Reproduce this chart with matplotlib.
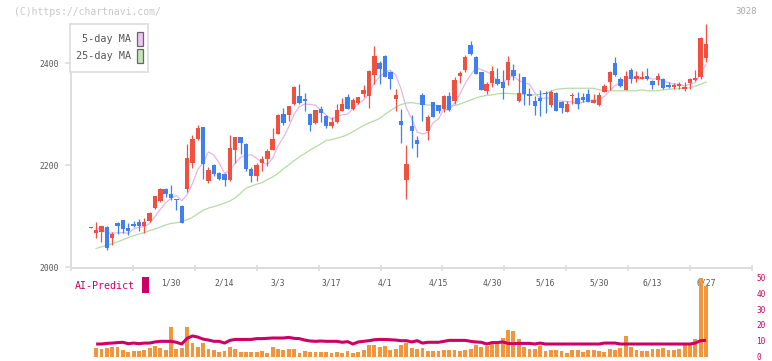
import numpy as np
import pandas as pd
import matplotlib
matplotlib.use("Agg")
import matplotlib.pyplot as plt
from matplotlib.patches import Rectangle

# ── Data (trading-day index, 0 = 1/30) ──
day_index = np.arange(-15, 101)

opens = [2077, 2067, 2070, 2079, 2058, 2087, 2093, 2077, 2085, 2089, 2081, 2091, 2117, 2129, 2153, 2144,
         2134, 2120, 2153, 2205, 2251, 2275, 2170, 2200, 2184, 2183, 2171, 2229, 2255, 2242, 2193, 2178,
         2205, 2212, 2230, 2262, 2301, 2299, 2320, 2336, 2329, 2301, 2282, 2310, 2297, 2277, 2284, 2307,
         2333, 2310, 2323, 2340, 2335, 2377, 2401, 2414, 2383, 2330, 2287, 2171, 2277, 2250, 2338, 2267,
         2324, 2318, 2310, 2336, 2327, 2376, 2386, 2435, 2413, 2382, 2346, 2361, 2369, 2364, 2367, 2387,
         2327, 2373, 2339, 2326, 2331, 2341, 2318, 2342, 2325, 2305, 2336, 2331, 2334, 2340, 2323, 2318,
         2344, 2364, 2401, 2370, 2348, 2387, 2369, 2370, 2375, 2366, 2367, 2370, 2357, 2354, 2355, 2350,
         2361, 2367, 2374, 2411]
highs = [2078, 2088, 2080, 2080, 2070, 2088, 2093, 2086, 2091, 2095, 2097, 2109, 2140, 2155, 2155, 2161,
         2134, 2122, 2242, 2259, 2279, 2276, 2197, 2202, 2187, 2184, 2259, 2256, 2256, 2243, 2197, 2205,
         2218, 2232, 2274, 2300, 2312, 2317, 2355, 2359, 2341, 2302, 2309, 2316, 2298, 2294, 2320, 2331,
         2340, 2331, 2334, 2357, 2386, 2433, 2405, 2416, 2384, 2350, 2310, 2240, 2299, 2257, 2342, 2299,
         2325, 2319, 2337, 2344, 2374, 2385, 2416, 2444, 2414, 2383, 2364, 2395, 2391, 2387, 2414, 2399,
         2380, 2374, 2351, 2335, 2348, 2346, 2348, 2344, 2327, 2327, 2342, 2343, 2341, 2349, 2340, 2344,
         2359, 2384, 2413, 2374, 2384, 2390, 2385, 2385, 2390, 2367, 2380, 2371, 2364, 2361, 2364, 2363,
         2371, 2387, 2451, 2477]
lows = [2077, 2058, 2050, 2034, 2044, 2066, 2068, 2063, 2078, 2072, 2068, 2089, 2115, 2128, 2138, 2132,
        2112, 2087, 2148, 2195, 2250, 2173, 2166, 2179, 2172, 2160, 2170, 2205, 2223, 2189, 2168, 2170,
        2189, 2199, 2229, 2261, 2279, 2287, 2318, 2320, 2307, 2268, 2280, 2285, 2274, 2274, 2283, 2306,
        2310, 2308, 2320, 2333, 2313, 2359, 2359, 2373, 2350, 2307, 2243, 2134, 2234, 2217, 2287, 2250,
        2294, 2302, 2305, 2307, 2320, 2361, 2382, 2417, 2378, 2347, 2340, 2354, 2358, 2330, 2357, 2367,
        2325, 2319, 2318, 2299, 2297, 2303, 2314, 2306, 2303, 2304, 2320, 2310, 2325, 2324, 2322, 2316,
        2343, 2348, 2376, 2354, 2347, 2362, 2364, 2369, 2367, 2350, 2357, 2350, 2351, 2350, 2350, 2346,
        2350, 2365, 2369, 2403]
closes = [2078, 2073, 2080, 2038, 2065, 2081, 2076, 2072, 2081, 2081, 2089, 2106, 2140, 2153, 2143, 2136,
          2132, 2087, 2214, 2251, 2273, 2202, 2191, 2183, 2174, 2172, 2234, 2255, 2244, 2192, 2178, 2200,
          2212, 2228, 2251, 2299, 2282, 2316, 2354, 2323, 2326, 2278, 2308, 2303, 2277, 2285, 2308, 2321,
          2311, 2328, 2333, 2348, 2385, 2414, 2389, 2374, 2370, 2338, 2278, 2202, 2267, 2242, 2318, 2294,
          2295, 2307, 2336, 2308, 2367, 2380, 2413, 2418, 2379, 2348, 2359, 2385, 2359, 2352, 2402, 2376,
          2342, 2339, 2335, 2317, 2327, 2339, 2344, 2307, 2313, 2320, 2338, 2321, 2328, 2325, 2328, 2338,
          2356, 2382, 2377, 2356, 2375, 2369, 2375, 2373, 2370, 2358, 2375, 2352, 2354, 2357, 2359, 2354,
          2370, 2372, 2450, 2438]

ma25 = [np.nan, 2037, 2040, 2043, 2046, 2050, 2054, 2058, 2062, 2065, 2068, 2072, 2075, 2079, 2083, 2086,
        2087, 2090, 2093, 2098, 2105, 2112, 2116, 2119, 2122, 2126, 2130, 2136, 2145, 2155, 2159, 2163,
        2166, 2172, 2177, 2184, 2193, 2201, 2209, 2217, 2223, 2230, 2236, 2242, 2249, 2250, 2253, 2256,
        2260, 2266, 2272, 2278, 2283, 2287, 2292, 2300, 2307, 2314, 2319, 2322, 2323, 2321, 2320, 2318,
        2318, 2317, 2316, 2316, 2317, 2320, 2324, 2328, 2332, 2335, 2337, 2338, 2340, 2341, 2341, 2340,
        2340, 2339, 2338, 2338, 2339, 2341, 2345, 2349, 2350, 2351, 2351, 2351, 2351, 2351, 2351, 2348,
        2347, 2346, 2346, 2346, 2346, 2346, 2346, 2348, 2346, 2346, 2346, 2348, 2349, 2350, 2350, 2351,
        2352, 2355, 2359, 2363]

volume = [np.nan, 5.4, 4.8, 5.4, 6.0, 6.0, 4.0, 3.1, 3.5, 3.5, 4.2, 5.4, 6.9, 5.4, 4.2, 18.5,
          4.8, 5.4, 18.5, 8.5, 6.0, 8.5, 5.0, 4.2, 3.1, 3.5, 6.0, 4.8, 3.1, 3.1, 3.1, 3.1,
          3.5, 2.3, 6.0, 4.8, 4.2, 4.8, 4.8, 2.3, 3.5, 3.1, 3.1, 3.1, 3.1, 2.3, 3.1, 2.3,
          3.5, 2.3, 3.1, 4.2, 7.3, 7.3, 6.0, 6.9, 4.2, 4.8, 7.3, 8.5, 5.4, 4.8, 5.4, 3.5,
          3.5, 3.5, 4.2, 4.2, 4.2, 3.5, 4.2, 4.8, 7.3, 6.0, 6.9, 7.9, 7.9, 11.7, 16.7, 16.0,
          11.0, 6.0, 4.8, 4.8, 6.7, 3.5, 4.2, 4.2, 3.5, 2.3, 4.2, 4.2, 2.9, 4.2, 4.2, 3.5,
          2.9, 4.8, 4.2, 5.4, 12.9, 6.0, 4.2, 3.5, 3.5, 4.8, 4.8, 5.4, 4.2, 4.2, 4.8, 7.3,
          7.3, 11.0, 50.0, 44.8]

ai_predict = [np.nan, 7.9, 7.9, 8.3, 8.5, 8.8, 9.0, 8.1, 8.5, 8.1, 8.5, 8.5, 9.2, 9.6, 9.6, 9.6,
              9.0, 7.9, 11.5, 13.0, 12.3, 11.0, 10.4, 9.6, 9.6, 8.5, 10.2, 10.8, 10.8, 10.8, 10.8, 11.3,
              11.3, 11.5, 11.7, 11.7, 11.7, 12.1, 11.5, 11.3, 10.4, 9.8, 9.6, 9.8, 9.6, 9.6, 9.6, 9.0,
              9.4, 7.9, 9.2, 9.6, 10.0, 10.6, 10.8, 10.8, 10.6, 10.4, 10.0, 10.0, 9.2, 10.0, 8.5, 9.0,
              9.0, 9.0, 9.6, 10.2, 10.2, 10.2, 10.2, 9.6, 9.2, 9.0, 7.9, 8.8, 8.8, 9.2, 8.3, 8.1,
              8.3, 8.3, 8.3, 7.9, 8.5, 7.9, 7.9, 7.9, 7.9, 7.9, 7.9, 7.9, 7.9, 7.9, 7.9, 7.9,
              8.5, 8.5, 8.5, 7.9, 7.9, 7.9, 7.9, 7.9, 7.9, 7.9, 7.9, 7.9, 7.9, 7.9, 7.9, 7.9,
              7.9, 8.5, 10.0, 10.2]

date_label_index = [0, 10, 20, 30, 40, 50, 60, 70, 80, 90, 100]
date_labels = ['1/30', '2/14', '3/3', '3/17', '4/1', '4/15', '4/30', '5/16', '5/30', '6/13', '6/27']
price_ticks = [2000, 2200, 2400]
ai_ticks = [0, 10, 20, 30, 40, 50]
stock_code = '3028'

# ── Styling ──
W, H = 772, 361
MONO = 'DejaVu Sans Mono'
UP, DOWN = '#f0503f', '#3f7ff0'
MA5_C, MA25_C = '#e8b4ea', '#b4dca4'
VOL_C, AI_C = '#f2963e', '#cc0066'
AXIS_C = '#dddddd'
TXT_C = '#555555'


def px_box(x0, y0, x1, y1):
    return [x0 / W, 1 - y1 / H, (x1 - x0) / W, (y1 - y0) / H]


fig = plt.figure(figsize=(W / 100, H / 100), dpi=100)

# ── Price panel ──
ax = fig.add_axes(px_box(71, 24, 752, 268.3))
ax.set_facecolor('none')
ax.set_zorder(1)
ax.set_xlim(-18.7, 108.6)
ax.set_ylim(1998, 2477)

o = np.array(opens, float)
h = np.array(highs, float)
l = np.array(lows, float)
c = np.array(closes, float)
colors = np.where(c >= o, UP, DOWN)

ma5 = pd.Series(c).rolling(5, min_periods=1).mean().to_numpy()
ma5[0] = np.nan
ax.plot(day_index, ma5, color=MA5_C, lw=0.9, zorder=1)
ax.plot(day_index, ma25, color=MA25_C, lw=0.9, zorder=1)

ax.vlines(day_index, l, h, colors=colors, lw=0.9, zorder=2)
body_bottom = np.minimum(o, c)
body_height = np.maximum(np.abs(c - o), 1.6)
ax.bar(day_index, body_height, bottom=body_bottom, width=0.82, color=colors,
       linewidth=0, zorder=3)

for side in ['top', 'right']:
    ax.spines[side].set_visible(False)
for side in ['left', 'bottom']:
    ax.spines[side].set_color(AXIS_C)
    ax.spines[side].set_linewidth(1.4)

ax.set_yticks(price_ticks)
ax.set_yticklabels([str(t) for t in price_ticks], fontsize=5.8, family=MONO, color=TXT_C)
ax.tick_params(axis='y', direction='out', length=4.5, width=1.2, color=AXIS_C, pad=4)

xmin, xmax = ax.get_xlim()
ax.set_xticks(np.linspace(xmin, xmax, 12))
ax.set_xticklabels([])
ax.tick_params(axis='x', which='major', direction='inout', length=4, width=1.2, color=AXIS_C)
ax.set_xticks(date_label_index, minor=True)
ax.set_xticklabels(date_labels, minor=True, fontsize=5.8, family=MONO, color=TXT_C)
ax.tick_params(axis='x', which='minor', length=0, pad=7.5)

# ── Volume / AI-Predict panel (on top, so the big bars cover the last date label) ──
axv = fig.add_axes(px_box(71, 277.5, 752, 356.5))
axv.set_facecolor('none')
axv.set_zorder(2)
axv.set_xlim(xmin, xmax)
axv.set_ylim(0, 50)
axv.bar(day_index, volume, width=0.72, color=VOL_C, linewidth=0, zorder=1)
axv.plot(day_index, ai_predict, color=AI_C, lw=2.2, zorder=2, solid_capstyle='butt')
for side in axv.spines.values():
    side.set_visible(False)
axv.set_xticks([])
axv.yaxis.tick_right()
axv.set_yticks(ai_ticks)
axv.set_yticklabels([str(t) for t in ai_ticks], fontsize=5.6, family=MONO, color=AI_C)
axv.tick_params(axis='y', length=0, pad=3)

# ── Header texts ──
fig.text(14 / W, 1 - 12 / H, '(C)https://chartnavi.com/', fontsize=7, family=MONO,
         color='#c8c8c8', ha='left', va='center')
fig.text(757 / W, 1 - 12 / H, stock_code, fontsize=6.5, family=MONO,
         color='#aaaaaa', ha='right', va='center')

# ── Legend box ──
fig.add_artist(Rectangle((70 / W, 1 - 72 / H), 78 / W, 48 / H, transform=fig.transFigure,
                         facecolor='white', edgecolor=AXIS_C, lw=1.2, zorder=5))
for label, fill, yc in [('5-day MA', '#f0c4f0', 39), ('25-day MA', '#c4e4b4', 56)]:
    fig.text(131 / W, 1 - yc / H, label, fontsize=7.3, family=MONO, color=TXT_C,
             ha='right', va='center', zorder=6)
    fig.add_artist(Rectangle((136.5 / W, 1 - (yc + 7) / H), 6 / W, 14 / H,
                             transform=fig.transFigure, facecolor=fill,
                             edgecolor='#666666', lw=0.9, zorder=6))

# ── AI-Predict label ──
fig.text(75 / W, 1 - 286 / H, 'AI-Predict', fontsize=7.2, family=MONO, color=AI_C,
         ha='left', va='center')
fig.add_artist(Rectangle((142 / W, 1 - 293 / H), 7 / W, 16 / H, transform=fig.transFigure,
                         facecolor=AI_C, edgecolor='none'))

fig.savefig('out.png', dpi=100)
